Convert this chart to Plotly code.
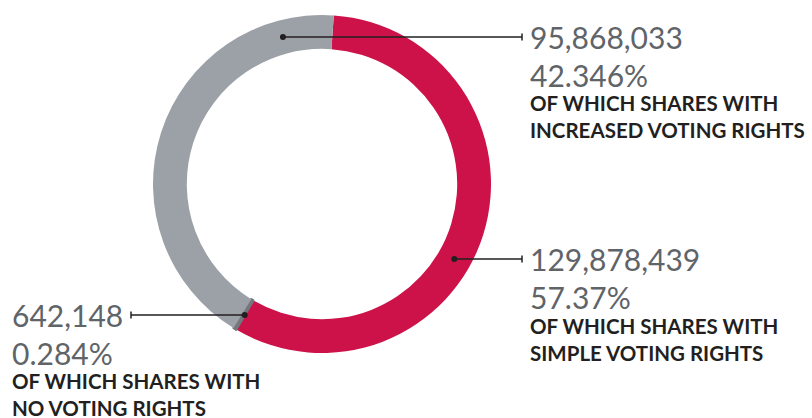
import math
import plotly.graph_objects as go

# ---- data ----
categories = ["Simple voting rights", "No voting rights", "Increased voting rights"]
shares = [129878439, 642148, 95868033]
percent_labels = ["57.37%", "0.284%", "42.346%"]
count_labels = ["129,878,439", "642,148", "95,868,033"]
descriptions = [
    "OF WHICH SHARES WITH<br>SIMPLE VOTING RIGHTS",
    "OF WHICH SHARES WITH<br>NO VOTING RIGHTS",
    "OF WHICH SHARES WITH<br>INCREASED VOTING RIGHTS",
]
colors = ["#CC1249", "#74787D", "#9CA0A7"]

# ---- layout geometry (pixels) ----
W, H = 812, 418
CX, CY, R = 322, 184, 169
HOLE = 0.80
RM = R * (1 + HOLE) / 2  # mid radius of ring


def px(x):
    return x / W


def py(y):
    return 1 - y / H


fig = go.Figure()
fig.add_trace(go.Pie(
    labels=categories,
    values=shares,
    marker=dict(colors=colors, line=dict(color=colors, width=[0, 2.5, 0])),
    hole=HOLE,
    sort=False,
    direction="clockwise",
    rotation=4,
    textinfo="none",
    hoverinfo="label+value+percent",
    showlegend=False,
    domain=dict(x=[px(CX - R), px(CX + R)], y=[py(CY + R), py(CY - R)]),
))

# label placement: (row y, leader end x, text x, description offset)
placements = [
    (259, 522, 528, 80),   # simple
    (315, 131, 10, 79),    # none
    (37, 522, 528, 80),    # increased
]

shapes = []
annotations = []
for i, (ly, lx_end, tx, doff) in enumerate(placements):
    dy = ly - CY
    dx = math.sqrt(max(RM ** 2 - dy ** 2, 0))
    dot_x = CX + dx if i == 0 else CX - dx
    shapes.append(dict(type="line", xref="paper", yref="paper",
                       x0=px(dot_x), x1=px(lx_end), y0=py(ly), y1=py(ly),
                       line=dict(color="#231F20", width=1.5)))
    shapes.append(dict(type="line", xref="paper", yref="paper",
                       x0=px(lx_end), x1=px(lx_end), y0=py(ly - 3.5), y1=py(ly + 3.5),
                       line=dict(color="#231F20", width=1.5)))
    shapes.append(dict(type="circle", xref="paper", yref="paper",
                       x0=px(dot_x - 3), x1=px(dot_x + 3), y0=py(ly + 3), y1=py(ly - 3),
                       fillcolor="#231F20", line=dict(width=0)))
    annotations.append(dict(x=px(tx), y=py(ly), xref="paper", yref="paper",
                            xanchor="left", yanchor="middle", showarrow=False,
                            text=count_labels[i],
                            font=dict(family="Lato", size=30, color="#5F6469")))
    annotations.append(dict(x=px(tx), y=py(ly + 38), xref="paper", yref="paper",
                            xanchor="left", yanchor="middle", showarrow=False,
                            text=percent_labels[i],
                            font=dict(family="Lato", size=30, color="#5F6469")))
    annotations.append(dict(x=px(tx), y=py(ly + doff), xref="paper", yref="paper",
                            xanchor="left", yanchor="middle", showarrow=False,
                            align="left",
                            text="<b>" + descriptions[i] + "</b>",
                            font=dict(family="Lato", size=20.5, color="#231F20")))

fig.update_layout(
    width=W, height=H,
    margin=dict(l=0, r=0, t=0, b=0),
    paper_bgcolor="white", plot_bgcolor="white",
    shapes=shapes, annotations=annotations,
)

fig.write_html("out.html", config={"displayModeBar": False},
               post_script="document.body.style.margin='0px';")
